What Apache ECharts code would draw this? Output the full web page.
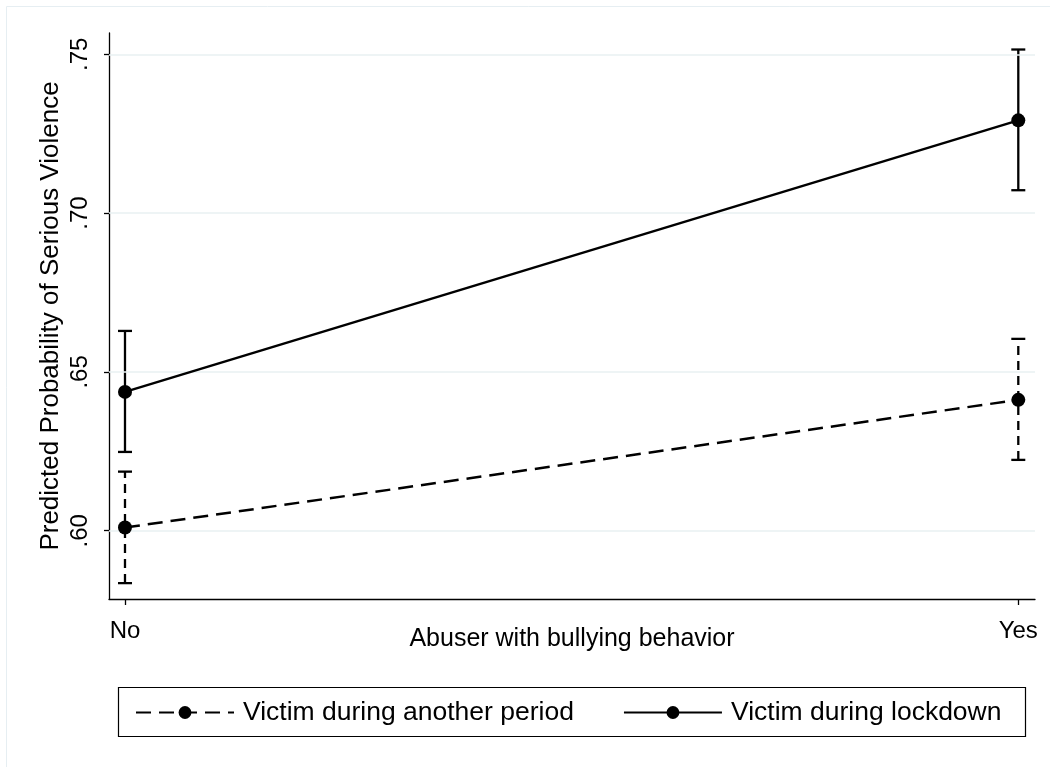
<!DOCTYPE html>
<html>
<head>
<meta charset="utf-8">
<script src="https://cdn.jsdelivr.net/npm/echarts@6/dist/echarts.min.js"></script>
<style>
html,body{margin:0;padding:0;background:#fff;}
#chart{width:1050px;height:767px;}
</style>
</head>
<body>
<div id="chart"></div>
<script>
const categories = ['No', 'Yes'];
const xPos = [0, 1];
const otherPeriod = [0.6010, 0.6412];
const otherLow = [0.5835, 0.6223];
const otherHigh = [0.6186, 0.6604];
const lockdown = [0.6437, 0.7292];
const lockLow = [0.6248, 0.7072];
const lockHigh = [0.6629, 0.7515];
const yTicks = [0.60, 0.65, 0.70, 0.75];
const seriesNames = ['Victim during another period', 'Victim during lockdown'];

const FONT = 'Liberation Sans, Arial, sans-serif';

function pts(vals) { return xPos.map((x, i) => [x, vals[i]]); }
function bars(lo, hi) { return xPos.map((x, i) => [x, lo[i], hi[i]]); }

function errRender(dash) {
  return function (params, api) {
    const x = api.value(0), lo = api.value(1), hi = api.value(2);
    const a = api.coord([x, lo]), b = api.coord([x, hi]);
    const hw = 7;
    return {
      type: 'group',
      children: [
        { type: 'line', shape: { x1: a[0], y1: a[1], x2: b[0], y2: b[1] },
          style: { stroke: '#000', lineWidth: 2.3, lineDash: dash } },
        { type: 'line', shape: { x1: a[0] - hw, y1: a[1], x2: a[0] + hw, y2: a[1] },
          style: { stroke: '#000', lineWidth: 2.3 } },
        { type: 'line', shape: { x1: b[0] - hw, y1: b[1], x2: b[0] + hw, y2: b[1] },
          style: { stroke: '#000', lineWidth: 2.3 } }
      ]
    };
  };
}

const chart = echarts.init(document.getElementById('chart'), null, { renderer: 'canvas' });
chart.setOption({
  animation: false,
  backgroundColor: '#fff',
  textStyle: { fontFamily: FONT },
  graphic: [
    { type: 'rect', shape: { x: 6.5, y: 6.5, width: 1100, height: 800 },
      style: { fill: 'none', stroke: '#e6eef2', lineWidth: 1 }, z: -10 },
    { type: 'rect', shape: { x: 118.5, y: 687.5, width: 907, height: 49 },
      style: { fill: 'none', stroke: '#000', lineWidth: 1.2 }, z: 10 }
  ],
  grid: { left: 109, right: 15, top: 33, bottom: 168 },
  xAxis: {
    type: 'value',
    min: -0.0179, max: 1.0187,
    name: 'Abuser with bullying behavior',
    nameLocation: 'middle',
    nameGap: 28,
    nameMoveOverlap: false,
    nameTextStyle: { fontSize: 25, color: '#000', fontFamily: FONT },
    axisLine: { show: true, onZero: false, lineStyle: { color: '#000', width: 1.3 } },
    axisTick: { show: true, length: 6, customValues: xPos, lineStyle: { color: '#000', width: 1.3 } },
    axisLabel: { show: true, customValues: xPos, margin: 20, fontSize: 24, color: '#000', fontFamily: FONT,
      formatter: v => categories[Math.round(v)] },
    splitLine: { show: false }
  },
  yAxis: {
    type: 'value',
    min: 0.5785, max: 0.7567,
    name: 'Predicted Probability of Serious Violence',
    nameLocation: 'middle',
    nameGap: 45,
    nameMoveOverlap: false,
    nameTextStyle: { fontSize: 26, color: '#000', fontFamily: FONT },
    axisLine: { show: true, onZero: false, lineStyle: { color: '#000', width: 1.3 } },
    axisTick: { show: true, length: 5, customValues: yTicks, lineStyle: { color: '#000', width: 1.3 } },
    axisLabel: { show: true, customValues: yTicks, rotate: 90, margin: 17, fontSize: 24, color: '#000', fontFamily: FONT,
      formatter: v => v.toFixed(2).replace(/^0/, '') },
    splitLine: { show: false }
  },
  legend: {
    data: seriesNames,
    left: 130,
    top: 694,
    itemWidth: 98,
    itemHeight: 16,
    itemGap: 49,
    selectedMode: false,
    textStyle: { fontSize: 26.5, color: '#000', fontFamily: FONT, padding: [0, 0, 0, 4] }
  },
  series: [
    {
      name: 'grid',
      type: 'line',
      data: [],
      z: 0,
      markLine: {
        silent: true,
        symbol: 'none',
        label: { show: false },
        lineStyle: { color: '#e8f0f2', type: 'solid', width: 1.5 },
        data: yTicks.map(v => ({ yAxis: v }))
      }
    },
    {
      name: 'ci_other',
      type: 'custom',
      renderItem: errRender([9, 6]),
      data: bars(otherLow, otherHigh),
      encode: { x: 0, y: [1, 2] },
      z: 2
    },
    {
      name: 'ci_lock',
      type: 'custom',
      renderItem: errRender(null),
      data: bars(lockLow, lockHigh),
      encode: { x: 0, y: [1, 2] },
      z: 2
    },
    {
      name: seriesNames[0],
      type: 'line',
      data: pts(otherPeriod),
      symbol: 'circle',
      symbolSize: 14,
      itemStyle: { color: '#000' },
      lineStyle: { color: '#000', width: 2.5, type: [15, 8] },
      z: 5
    },
    {
      name: seriesNames[1],
      type: 'line',
      data: pts(lockdown),
      symbol: 'circle',
      symbolSize: 14,
      itemStyle: { color: '#000' },
      lineStyle: { color: '#000', width: 2.5, type: 'solid' },
      z: 5
    }
  ]
});
</script>
</body>
</html>
